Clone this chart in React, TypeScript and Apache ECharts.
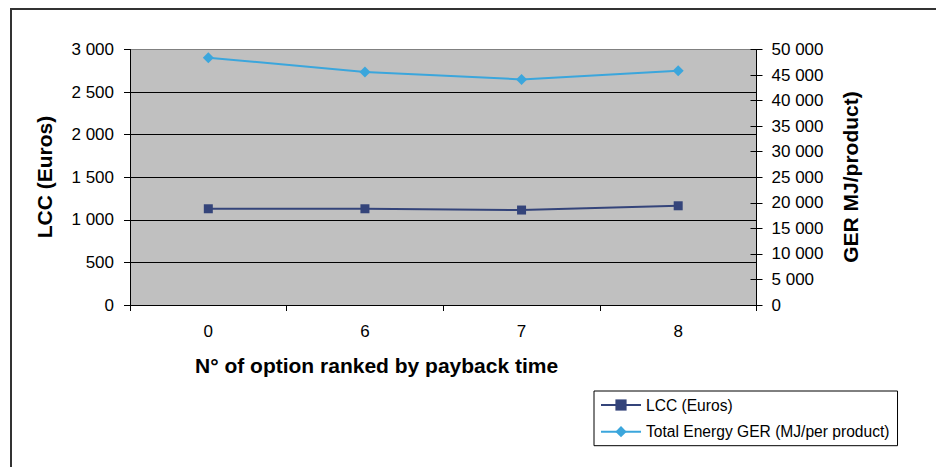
import React, { useEffect, useRef } from "react";
import * as echarts from "echarts";

const categories = ["0", "6", "7", "8"];
const lccValues = [1130, 1130, 1115, 1165];
const gerValues = [48400, 45600, 44150, 45850];
const leftTicks = { min: 0, max: 3000, interval: 500 };
const rightTicks = { min: 0, max: 50000, interval: 5000 };
const seriesNames = ["LCC (Euros)", "Total Energy GER (MJ/per product)"];
const xTitle = "N° of option ranked by payback time";
const leftTitle = "LCC (Euros)";
const rightTitle = "GER MJ/product)";

const fmt = (v: number) => {
  const s = String(Math.round(v));
  return s.replace(/\B(?=(\d{3})+(?!\d))/g, " ");
};

const FONT = "Liberation Sans, Arial, sans-serif";

export default function App() {
  const ref = useRef<HTMLDivElement>(null);
  useEffect(() => {
    if (!ref.current) return;
    const chart = echarts.init(ref.current, undefined, { renderer: "svg" });
    const gridLeft = 130;
    const gridTop = 49.5;
    const gridRight = 936 - 756.5;
    const gridBottom = 467 - 305;
    chart.setOption({
      animation: false,
      backgroundColor: "#ffffff",
      textStyle: { fontFamily: FONT },
      grid: {
        left: gridLeft,
        top: gridTop,
        right: gridRight,
        bottom: gridBottom,
        show: true,
        backgroundColor: "#c0c0c0",
        borderWidth: 0,
      },
      legend: {
        orient: "vertical",
        left: 594,
        top: 391,
        width: 301,
        padding: [6, 8, 6, 6],
        itemWidth: 40,
        itemHeight: 14,
        itemGap: 10.7,
        borderColor: "#000",
        borderWidth: 1,
        backgroundColor: "#fff",
        textStyle: { fontFamily: FONT, fontSize: 15.6, color: "#000" },
        data: seriesNames,
      },
      xAxis: {
        type: "category",
        data: categories,
        boundaryGap: true,
        axisLine: { lineStyle: { color: "#000", width: 1 } },
        axisTick: { show: true, length: 6, lineStyle: { color: "#000" } },
        axisLabel: { margin: 18, fontSize: 17, color: "#000", fontFamily: FONT },
        splitLine: { show: false },
      },
      yAxis: [
        {
          type: "value",
          position: "left",
          min: leftTicks.min,
          max: leftTicks.max,
          interval: leftTicks.interval,
          axisLine: { show: true, lineStyle: { color: "#000" } },
          axisTick: { show: true, length: 6, lineStyle: { color: "#000" } },
          axisLabel: {
            margin: 16,
            fontSize: 17,
            color: "#000",
            fontFamily: FONT,
            formatter: (v: number) => fmt(v),
          },
          splitLine: {
            show: true,
            lineStyle: {
              color: ["#000", "#000", "#000", "#000", "#000", "#000", "#808080"],
              width: 1,
            },
          },
        },
        {
          type: "value",
          position: "right",
          min: rightTicks.min,
          max: rightTicks.max,
          interval: rightTicks.interval,
          axisLine: { show: true, lineStyle: { color: "#000" } },
          axisTick: { show: true, length: 6, lineStyle: { color: "#000" } },
          axisLabel: {
            margin: 15,
            fontSize: 17,
            color: "#000",
            fontFamily: FONT,
            formatter: (v: number) => fmt(v),
          },
          splitLine: { show: false },
        },
        {
          type: "value",
          position: "right",
          min: rightTicks.min,
          max: rightTicks.max,
          interval: rightTicks.interval,
          axisLine: { show: false },
          axisTick: { show: true, inside: true, length: 6, lineStyle: { color: "#000" } },
          axisLabel: { show: false },
          splitLine: { show: false },
        },
      ],
      graphic: [
        {
          type: "rect",
          shape: { x: 11, y: 9, width: 1000, height: 600 },
          style: { fill: "none", stroke: "#333", lineWidth: 2 },
          silent: true,
        },
        {
          type: "text",
          x: 195,
          y: 365,
          style: {
            text: xTitle,
            font: `bold 21px ${FONT}`,
            fill: "#000",
            align: "left",
            verticalAlign: "middle",
          },
        },
        {
          type: "text",
          x: 44,
          y: 177,
          rotation: Math.PI / 2,
          style: {
            text: leftTitle,
            font: `bold 21px ${FONT}`,
            fill: "#000",
            align: "center",
            verticalAlign: "middle",
          },
        },
        {
          type: "text",
          x: 850,
          y: 177,
          rotation: Math.PI / 2,
          style: {
            text: rightTitle,
            font: `bold 21px ${FONT}`,
            fill: "#000",
            align: "center",
            verticalAlign: "middle",
          },
        },
      ],
      series: [
        {
          name: seriesNames[0],
          type: "line",
          yAxisIndex: 0,
          data: lccValues,
          symbol: "rect",
          symbolSize: 9,
          itemStyle: { color: "#34447a" },
          lineStyle: { color: "#34447a", width: 2 },
        },
        {
          name: seriesNames[1],
          type: "line",
          yAxisIndex: 1,
          data: gerValues,
          symbol: "diamond",
          symbolSize: 11,
          itemStyle: { color: "#3ba6dc" },
          lineStyle: { color: "#3ba6dc", width: 2 },
        },
      ],
    });
    return () => chart.dispose();
  }, []);
  return (
    <div
      ref={ref}
      style={{ position: "fixed", left: 0, top: 0, width: 936, height: 467 }}
    />
  );
}
